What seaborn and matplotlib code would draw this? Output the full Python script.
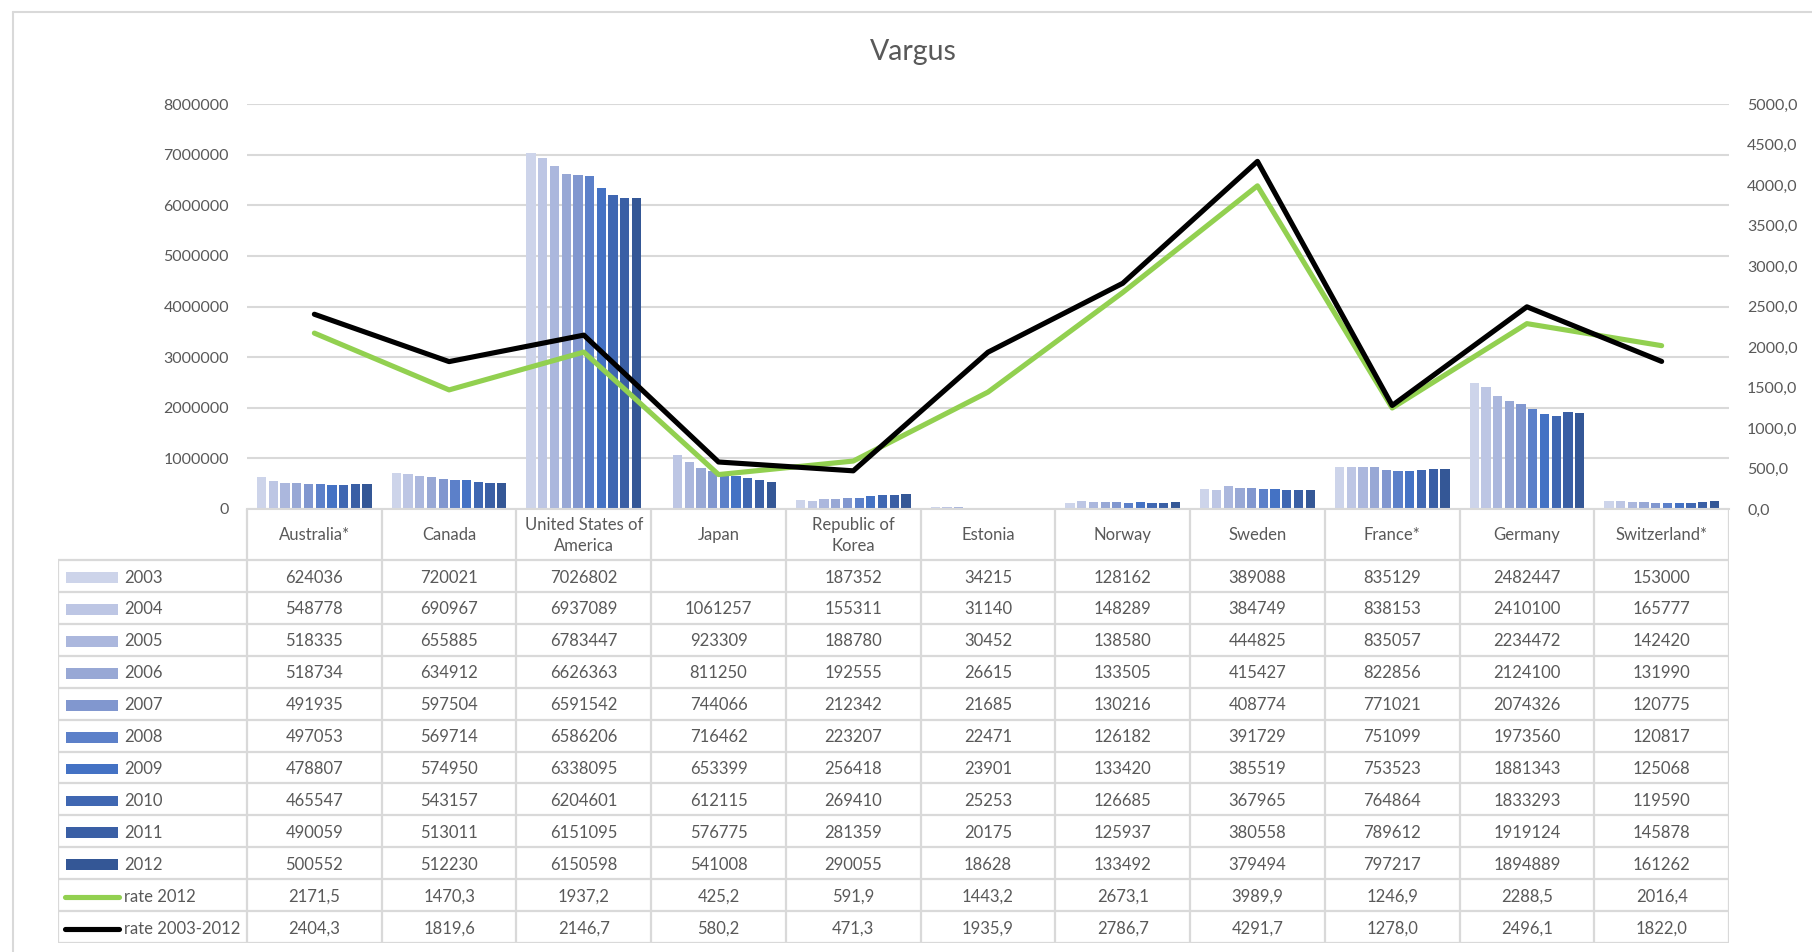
import numpy as np
import pandas as pd
import matplotlib
matplotlib.use("Agg")
import matplotlib.pyplot as plt
from matplotlib.ticker import FuncFormatter, MultipleLocator
from matplotlib.lines import Line2D
import seaborn as sns

countries = ["Australia*", "Canada", "United States of\nAmerica", "Japan", "Republic of\nKorea",
             "Estonia", "Norway", "Sweden", "France*", "Germany", "Switzerland*"]
years = ["2003", "2004", "2005", "2006", "2007", "2008", "2009", "2010", "2011", "2012"]

counts_2003 = [624036, 720021, 7026802, np.nan, 187352, 34215, 128162, 389088, 835129, 2482447, 153000]
counts_2004 = [548778, 690967, 6937089, 1061257, 155311, 31140, 148289, 384749, 838153, 2410100, 165777]
counts_2005 = [518335, 655885, 6783447, 923309, 188780, 30452, 138580, 444825, 835057, 2234472, 142420]
counts_2006 = [518734, 634912, 6626363, 811250, 192555, 26615, 133505, 415427, 822856, 2124100, 131990]
counts_2007 = [491935, 597504, 6591542, 744066, 212342, 21685, 130216, 408774, 771021, 2074326, 120775]
counts_2008 = [497053, 569714, 6586206, 716462, 223207, 22471, 126182, 391729, 751099, 1973560, 120817]
counts_2009 = [478807, 574950, 6338095, 653399, 256418, 23901, 133420, 385519, 753523, 1881343, 125068]
counts_2010 = [465547, 543157, 6204601, 612115, 269410, 25253, 126685, 367965, 764864, 1833293, 119590]
counts_2011 = [490059, 513011, 6151095, 576775, 281359, 20175, 125937, 380558, 789612, 1919124, 145878]
counts_2012 = [500552, 512230, 6150598, 541008, 290055, 18628, 133492, 379494, 797217, 1894889, 161262]

rate_2012 = [2171.5, 1470.3, 1937.2, 425.2, 591.9, 1443.2, 2673.1, 3989.9, 1246.9, 2288.5, 2016.4]
rate_2003_2012 = [2404.3, 1819.6, 2146.7, 580.2, 471.3, 1935.9, 2786.7, 4291.7, 1278.0, 2496.1, 1822.0]

year_colors = ["#CDD4EA", "#BDC6E4", "#ABB7DD", "#98A8D5", "#8197CF",
               "#5C80C9", "#4472C4", "#3F67B2", "#3A5FA5", "#345796"]
green = "#92D050"
text_col = "#595959"
grid_col = "#D9D9D9"

all_counts = [counts_2003, counts_2004, counts_2005, counts_2006, counts_2007,
              counts_2008, counts_2009, counts_2010, counts_2011, counts_2012]
df = pd.DataFrame([
    {"country": c, "year": y, "value": v}
    for y, vals in zip(years, all_counts)
    for c, v in zip(countries, vals)
])

sns.set_style("white")
plt.rcParams["font.family"] = ["Lato", "DejaVu Sans"]

W, H = 1812, 952
fig = plt.figure(figsize=(W / 100, H / 100), dpi=100)

# plot area in pixels
px_left, px_right, px_top, px_bottom = 247, 1729, 104, 509
ax = fig.add_axes([px_left / W, 1 - px_bottom / H, (px_right - px_left) / W, (px_bottom - px_top) / H])

sns.barplot(data=df, x="country", y="value", hue="year", order=countries, hue_order=years,
            palette=year_colors, width=0.87, gap=0.21, saturation=1, errorbar=None,
            linewidth=0, legend=False, ax=ax)
ax.set_xlim(-0.5, len(countries) - 0.5)
ax.set_ylim(0, 8000000)
ax.yaxis.set_major_locator(MultipleLocator(1000000))
ax.yaxis.set_major_formatter(FuncFormatter(lambda v, p: f"{int(v)}"))
ax.grid(axis="y", color=grid_col, lw=1.5)
ax.set_axisbelow(True)
ax.set_xlabel("")
ax.set_ylabel("")
ax.set_xticks([])
ax.tick_params(axis="y", length=0, pad=13, labelsize=11.5, labelcolor=text_col)
for loc in ["top", "right", "left"]:
    ax.spines[loc].set_visible(False)
ax.spines["bottom"].set_color(grid_col)
ax.spines["bottom"].set_linewidth(1.5)

ax2 = ax.twinx()
pos = np.arange(len(countries))
sns.lineplot(x=pos, y=rate_2012, ax=ax2, color=green, lw=3.7, solid_capstyle="round")
sns.lineplot(x=pos, y=rate_2003_2012, ax=ax2, color="black", lw=3.7, solid_capstyle="round")
ax2.set_ylim(0, 5000)
ax2.yaxis.set_major_locator(MultipleLocator(500))
ax2.yaxis.set_major_formatter(FuncFormatter(lambda v, p: f"{v:.1f}".replace(".", ",")))
ax2.tick_params(axis="y", length=0, pad=13, labelsize=11.5, labelcolor=text_col)
for loc in ["top", "right", "left", "bottom"]:
    ax2.spines[loc].set_visible(False)
ax2.set_xlim(-0.5, len(countries) - 0.5)

# title
fig.text(913 / W, 1 - 52 / H, "Vargus", ha="center", va="center", fontsize=20.5, color=text_col)

# data table below the plot
col_px = (px_right - px_left) / len(countries)
leg_w = (px_left - 58) / col_px
head_h = 51 / 31.9
n_rows = len(years) + 2
tax = fig.add_axes([58 / W, 1 - 943 / H, (px_right - 58) / W, 434 / H])
tax.set_xlim(-0.5 - leg_w, len(countries) - 0.5)
tax.set_ylim(-(head_h + n_rows), 0)
tax.axis("off")

lw_t = 1.6
# header cells and grid
tax.vlines(np.arange(len(countries) + 1) - 0.5, -(head_h + n_rows), 0, color=grid_col, lw=lw_t)
tax.vlines(-0.5 - leg_w, -(head_h + n_rows), -head_h, color=grid_col, lw=lw_t)
tax.hlines(-head_h - np.arange(n_rows + 1), -0.5 - leg_w, len(countries) - 0.5, color=grid_col, lw=lw_t)
for i, c in enumerate(countries):
    tax.text(i, -head_h / 2 - 0.03, c, ha="center", va="center", fontsize=12, color=text_col, linespacing=1.45)

row_labels = years + ["rate 2012", "rate 2003-2012"]
x_sw0 = (66 - px_left) / col_px - 0.5
x_sw1 = (118 - px_left) / col_px - 0.5
x_txt = (124 - px_left) / col_px - 0.5
for r, lab in enumerate(row_labels):
    yc = -head_h - r - 0.55
    if r < len(years):
        tax.add_patch(plt.Rectangle((x_sw0, yc - 0.17), x_sw1 - x_sw0, 0.34, color=year_colors[r], lw=0))
        vals = [("" if np.isnan(v) else f"{int(v)}") for v in all_counts[r]]
    else:
        col = green if r == len(years) else "black"
        tax.add_line(Line2D([x_sw0 - 0.01, x_sw1 + 0.01], [yc, yc], color=col, lw=3.7, solid_capstyle="round"))
        rates = rate_2012 if r == len(years) else rate_2003_2012
        vals = [f"{v:.1f}".replace(".", ",") for v in rates]
    tax.text(x_txt, yc, lab, ha="left", va="center", fontsize=12, color=text_col)
    for i, s in enumerate(vals):
        tax.text(i, yc, s, ha="center", va="center", fontsize=12, color=text_col)

# outer chart frame (left and top edges visible)
fig.add_artist(Line2D([13 / W, 13 / W], [0, 1 - 12 / H], color=grid_col, lw=1.5))
fig.add_artist(Line2D([13 / W, 1], [1 - 12 / H, 1 - 12 / H], color=grid_col, lw=1.5))

fig.savefig("out.png", dpi=100)
